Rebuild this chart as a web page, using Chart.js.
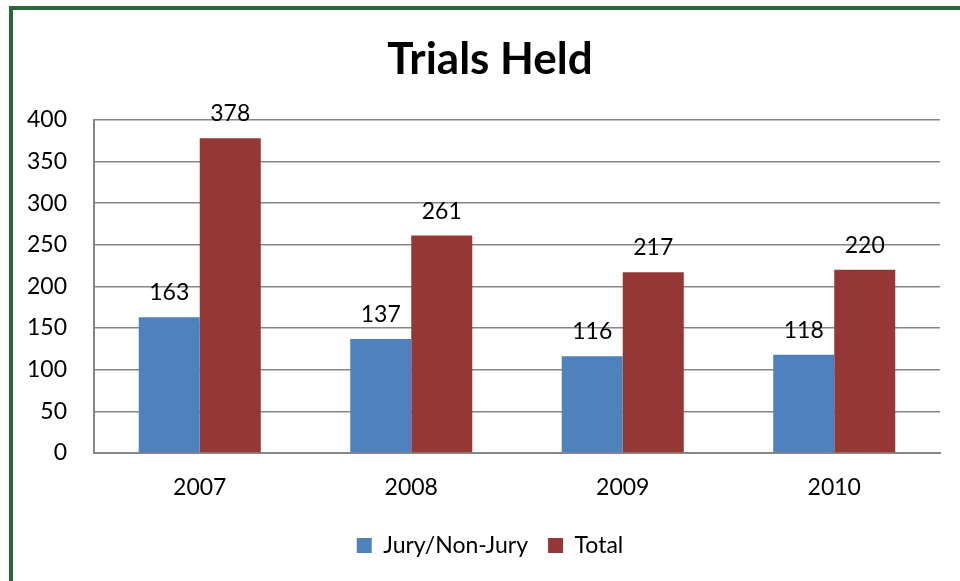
<!DOCTYPE html>
<html>
<head>
<meta charset="utf-8">
<script src="https://cdn.jsdelivr.net/npm/chart.js@4.4.1/dist/chart.umd.min.js"></script>
<style>
html,body{margin:0;padding:0;background:#fff;}
canvas{display:block;}
</style>
</head>
<body>
<canvas id="c" width="960" height="581"></canvas>
<script>
const categories = ["2007", "2008", "2009", "2010"];
const juryValues = [163, 137, 116, 118];
const totalValues = [378, 261, 217, 220];
const yTicks = [0, 50, 100, 150, 200, 250, 300, 350, 400];

const FONT = "Lato, 'Open Sans', sans-serif";

const framePlugin = {
  id: 'frame',
  beforeDraw(chart) {
    const ctx = chart.ctx;
    ctx.save();
    ctx.fillStyle = '#ffffff';
    ctx.fillRect(0, 0, chart.width, chart.height);
    ctx.fillStyle = '#276a38';
    ctx.fillRect(9, 6, 4, chart.height - 6);
    ctx.fillRect(9, 6, chart.width - 9, 4);
    ctx.restore();
  }
};

const labelPlugin = {
  id: 'valueLabels',
  afterDatasetsDraw(chart) {
    const ctx = chart.ctx;
    ctx.save();
    ctx.font = "23px " + FONT;
    ctx.fillStyle = '#000';
    ctx.textAlign = 'center';
    ctx.textBaseline = 'alphabetic';
    chart.data.datasets.forEach((ds, i) => {
      const meta = chart.getDatasetMeta(i);
      meta.data.forEach((bar, j) => {
        ctx.fillText(String(ds.data[j]), bar.x, bar.y - 17);
      });
    });
    ctx.restore();
  }
};

new Chart(document.getElementById('c'), {
  type: 'bar',
  data: {
    labels: categories,
    datasets: [
      { label: 'Jury/Non-Jury', data: juryValues, backgroundColor: '#4f81bd', borderWidth: 0 },
      { label: 'Total', data: totalValues, backgroundColor: '#953735', borderWidth: 0 }
    ]
  },
  options: {
    responsive: false,
    animation: false,
    devicePixelRatio: 1,
    layout: { padding: { left: 20, right: 0, top: 0, bottom: 14 } },
    datasets: { bar: { categoryPercentage: 0.577, barPercentage: 1.0 } },
    plugins: {
      title: {
        display: true,
        text: 'Trials Held',
        color: '#000',
        font: { family: FONT, size: 44, weight: 'bold' },
        padding: { top: 33, bottom: 34 }
      },
      legend: {
        position: 'bottom',
        labels: {
          color: '#000',
          font: { family: FONT, size: 23 },
          boxWidth: 15,
          boxHeight: 15,
          padding: 20
        }
      },
      tooltip: { enabled: false }
    },
    scales: {
      x: {
        grid: { display: false, drawTicks: false },
        border: { display: true, color: '#868686', width: 2 },
        ticks: { color: '#000', font: { family: FONT, size: 23 }, padding: 21 },
        afterFit(scale) { scale.height = 61; }
      },
      y: {
        min: 0,
        max: 400,
        afterBuildTicks(scale) { scale.ticks = yTicks.map(v => ({ value: v })); },
        grid: { color: '#868686', lineWidth: 1.5, drawTicks: false },
        border: { display: true, color: '#868686', width: 2 },
        ticks: { color: '#000', font: { family: FONT, size: 23 }, padding: 27 },
        afterFit(scale) { scale.width = 74; }
      },
      yRight: {
        position: 'right',
        display: true,
        grid: { display: false, drawTicks: false },
        border: { display: false },
        ticks: { display: false },
        afterFit(scale) { scale.width = 20; }
      }
    }
  },
  plugins: [framePlugin, labelPlugin]
});
</script>
</body>
</html>
